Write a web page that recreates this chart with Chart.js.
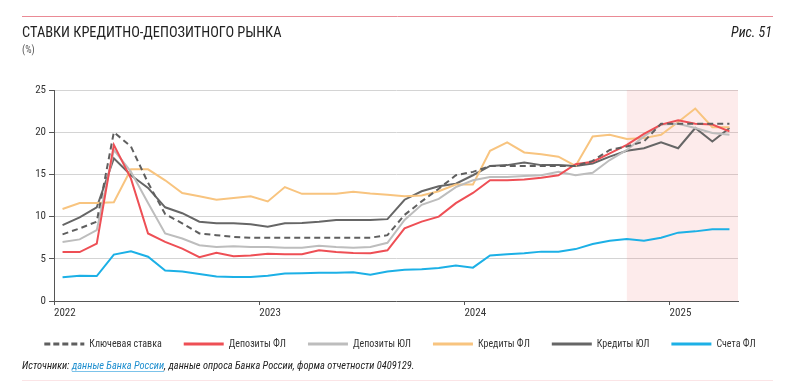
<!DOCTYPE html>
<html lang="ru">
<head>
<meta charset="utf-8">
<script src="https://cdn.jsdelivr.net/npm/chart.js@4.4.1/dist/chart.umd.min.js"></script>
<style>
  html, body { margin: 0; padding: 0; background: #fff; }
  #wrap { width: 800px; height: 381px; position: relative; }
</style>
</head>
<body>
<div id="wrap"><canvas id="chart"></canvas></div>
<script>
const months = [
  '01.22', '02.22', '03.22', '04.22', '05.22', '06.22', '07.22', '08.22', '09.22', '10.22', '11.22', '12.22',
  '01.23', '02.23', '03.23', '04.23', '05.23', '06.23', '07.23', '08.23', '09.23', '10.23', '11.23', '12.23',
  '01.24', '02.24', '03.24', '04.24', '05.24', '06.24', '07.24', '08.24', '09.24', '10.24', '11.24', '12.24',
  '01.25', '02.25', '03.25', '04.25'
];
const yearLabels = ['2022', '2023', '2024', '2025'];
const yearStarts = ['01.22', '01.23', '01.24', '01.25'];
const forecastFrom = '10.24';
const yTicks = [0, 5, 10, 15, 20, 25];

const keyRate = [7.9, 8.6, 9.4, 20.0, 18.3, 14.0, 10.3, 9.2, 8.0, 7.8, 7.6, 7.5, 7.5, 7.5, 7.5, 7.5, 7.5, 7.5, 7.5, 7.8,
  10.2, 11.8, 13.3, 14.9, 15.3, 16.0, 16.0, 16.0, 16.0, 16.0, 16.0, 16.6, 17.9, 18.3, 18.9, 21.0, 21.0, 21.0, 21.0, 21.0];
const depositsFL = [5.8, 5.8, 6.8, 18.5, 14.5, 8.0, 7.0, 6.2, 5.2, 5.7, 5.3, 5.4, 5.6, 5.55, 5.55, 6.0, 5.8, 5.7, 5.65, 6.0,
  8.6, 9.4, 10.0, 11.6, 12.8, 14.3, 14.3, 14.4, 14.6, 14.9, 16.2, 16.5, 17.5, 18.5, 19.8, 20.9, 21.4, 21.0, 20.9, 20.1];
const depositsUL = [7.0, 7.3, 8.4, 17.9, 15.3, 11.6, 8.0, 7.4, 6.6, 6.4, 6.5, 6.4, 6.4, 6.3, 6.3, 6.55, 6.4, 6.3, 6.4, 6.9,
  9.6, 11.4, 12.1, 13.5, 14.3, 14.7, 14.7, 14.8, 14.9, 15.3, 14.9, 15.2, 16.7, 17.9, 19.5, 20.9, 21.0, 20.5, 19.9, 19.7];
const creditsFL = [10.9, 11.6, 11.6, 11.7, 15.6, 15.6, 14.3, 12.8, 12.4, 12.0, 12.2, 12.4, 11.8, 13.5, 12.7, 12.7, 12.7, 12.95, 12.75, 12.6,
  12.4, 12.5, 13.0, 13.8, 13.8, 17.8, 18.8, 17.6, 17.4, 17.1, 16.0, 19.5, 19.7, 19.2, 19.3, 19.7, 21.2, 22.8, 20.6, 20.6];
const creditsUL = [9.0, 9.9, 11.1, 16.9, 14.9, 13.4, 11.1, 10.4, 9.4, 9.2, 9.2, 9.1, 8.8, 9.2, 9.25, 9.4, 9.6, 9.6, 9.6, 9.7,
  12.0, 13.0, 13.6, 13.9, 14.9, 16.0, 16.1, 16.4, 16.1, 16.1, 16.0, 16.3, 17.1, 17.8, 18.1, 18.8, 18.1, 20.5, 18.9, 20.5];
const accountsFL = [2.8, 3.0, 2.95, 5.5, 5.9, 5.25, 3.6, 3.5, 3.2, 2.9, 2.85, 2.85, 3.0, 3.25, 3.3, 3.35, 3.35, 3.4, 3.1, 3.5,
  3.7, 3.75, 3.9, 4.2, 3.95, 5.4, 5.55, 5.65, 5.85, 5.85, 6.15, 6.75, 7.15, 7.35, 7.15, 7.5, 8.1, 8.25, 8.5, 8.5];

const FONT = "'Roboto Condensed', 'DejaVu Sans Condensed', sans-serif";
Chart.defaults.font.family = FONT;
Chart.defaults.color = '#333';

// months sit in the middle of their slot on a linear axis
const monthX = (m) => months.indexOf(m) + 0.5;
const toPoints = (values) => values.map((v, i) => ({ x: monthX(months[i]), y: v }));

//--- Forecast shading, header and source line.
const ratesFrame = {
  id: 'ratesFrame',
  beforeDatasetsDraw(chart, args, opts) {
    const { ctx, chartArea, scales: { x } } = chart;
    const left = x.getPixelForValue(monthX(opts.forecastFrom));
    ctx.save();
    ctx.fillStyle = 'rgba(240, 110, 110, 0.14)';
    ctx.fillRect(left, chartArea.top, chartArea.right - left, chartArea.bottom - chartArea.top);
    ctx.restore();
  },
  afterDraw(chart) {
    const { ctx } = chart;
    ctx.save();

    // Red rule on top, faint one at the bottom.
    ctx.lineWidth = 1;
    ctx.strokeStyle = '#ea8a95';
    ctx.beginPath();
    ctx.moveTo(22, 16.5);
    ctx.lineTo(773, 16.5);
    ctx.stroke();
    ctx.strokeStyle = '#fbe4e6';
    ctx.beginPath();
    ctx.moveTo(22, 380.5);
    ctx.lineTo(773, 380.5);
    ctx.stroke();

    ctx.textBaseline = 'alphabetic';
    ctx.textAlign = 'left';
    ctx.fillStyle = '#222';
    ctx.font = '14.4px ' + FONT;
    ctx.fillText('СТАВКИ КРЕДИТНО-ДЕПОЗИТНОГО РЫНКА', 22, 37);
    ctx.font = '10px ' + FONT;
    ctx.fillStyle = '#555';
    ctx.fillText('(%)', 22, 53);

    ctx.font = 'italic 14px ' + FONT;
    ctx.fillStyle = '#222';
    ctx.textAlign = 'right';
    ctx.fillText('Рис. 51', 772, 37);

    // Source line.
    ctx.textAlign = 'left';
    ctx.font = 'italic 10.4px ' + FONT;
    let x = 22;
    const y = 369;
    const parts = [
      ['Источники: ', '#222', false],
      ['данные Банка России', '#1f8fcf', true],
      [', данные опроса Банка России, форма отчетности 0409129.', '#222', false],
    ];
    parts.forEach(([text, color, underline]) => {
      const w = ctx.measureText(text).width;
      ctx.fillStyle = color;
      ctx.fillText(text, x, y);
      if (underline) {
        ctx.strokeStyle = '#7cc3ea';
        ctx.beginPath();
        ctx.moveTo(x, y + 2.5);
        ctx.lineTo(x + w, y + 2.5);
        ctx.stroke();
      }
      x += w;
    });

    ctx.restore();
  }
};

const lineSet = (label, values, color, extra = {}) => ({
  label,
  data: toPoints(values),
  borderColor: color,
  backgroundColor: color,
  borderWidth: 2,
  pointRadius: 0,
  tension: 0,
  ...extra
});

new Chart(document.getElementById('chart'), {
  type: 'line',
  data: {
    datasets: [
      lineSet('Ключевая ставка', keyRate, '#5f5f5f', { borderDash: [6, 4] }),
      lineSet('Депозиты ФЛ', depositsFL, '#ee4f55'),
      lineSet('Депозиты ЮЛ', depositsUL, '#bdbdbd'),
      lineSet('Кредиты ФЛ', creditsFL, '#f8c47f'),
      lineSet('Кредиты ЮЛ', creditsUL, '#666666'),
      lineSet('Счета ФЛ', accountsFL, '#1cb0e6'),
    ]
  },
  options: {
    responsive: true,
    maintainAspectRatio: false,
    animation: false,
    layout: {
      padding: { top: 90, right: 0, bottom: 22, left: 0 }
    },
    scales: {
      x: {
        type: 'linear',
        min: 0,
        max: months.length,
        afterFit: (scale) => { scale.height = 16; },
        afterBuildTicks: (scale) => {
          scale.ticks = yearStarts.map(m => ({ value: months.indexOf(m) }));
        },
        grid: { drawOnChartArea: false, drawTicks: true, tickLength: 4, tickColor: '#555' },
        border: { color: '#555', width: 1 },
        ticks: {
          align: 'start',
          padding: 2,
          maxRotation: 0,
          font: { size: 11 },
          color: '#333',
          callback: (value) => yearLabels[yearStarts.map(m => months.indexOf(m)).indexOf(value)] ?? ''
        }
      },
      y: {
        min: 0,
        max: 25,
        afterFit: (scale) => { scale.width = 54; },
        afterBuildTicks: (scale) => { scale.ticks = yTicks.map(v => ({ value: v })); },
        grid: { color: '#d4d4d4', tickColor: '#555', tickLength: 5 },
        border: { color: '#555', width: 1 },
        ticks: { padding: 3, font: { size: 11 }, color: '#333' }
      },
      // keeps the right margin without shifting the centred legend
      y2: {
        position: 'right',
        afterFit: (scale) => { scale.width = 62; },
        grid: { display: false },
        border: { display: false },
        ticks: { display: false }
      }
    },
    plugins: {
      legend: {
        position: 'bottom',
        labels: {
          usePointStyle: true,
          pointStyleWidth: 40,
          pointStyle: 'line',
          padding: 22,
          color: '#333',
          font: { size: 10 },
          // point styles do not carry the dash, so take it from the dataset
          generateLabels: (chart) => Chart.defaults.plugins.legend.labels.generateLabels(chart)
            .map(item => ({
              ...item,
              lineWidth: 3,
              lineDash: chart.data.datasets[item.datasetIndex].borderDash ? [6, 3] : []
            }))
        }
      },
      tooltip: { enabled: false },
      ratesFrame: { forecastFrom }
    }
  },
  plugins: [ratesFrame]
});
</script>
</body>
</html>
